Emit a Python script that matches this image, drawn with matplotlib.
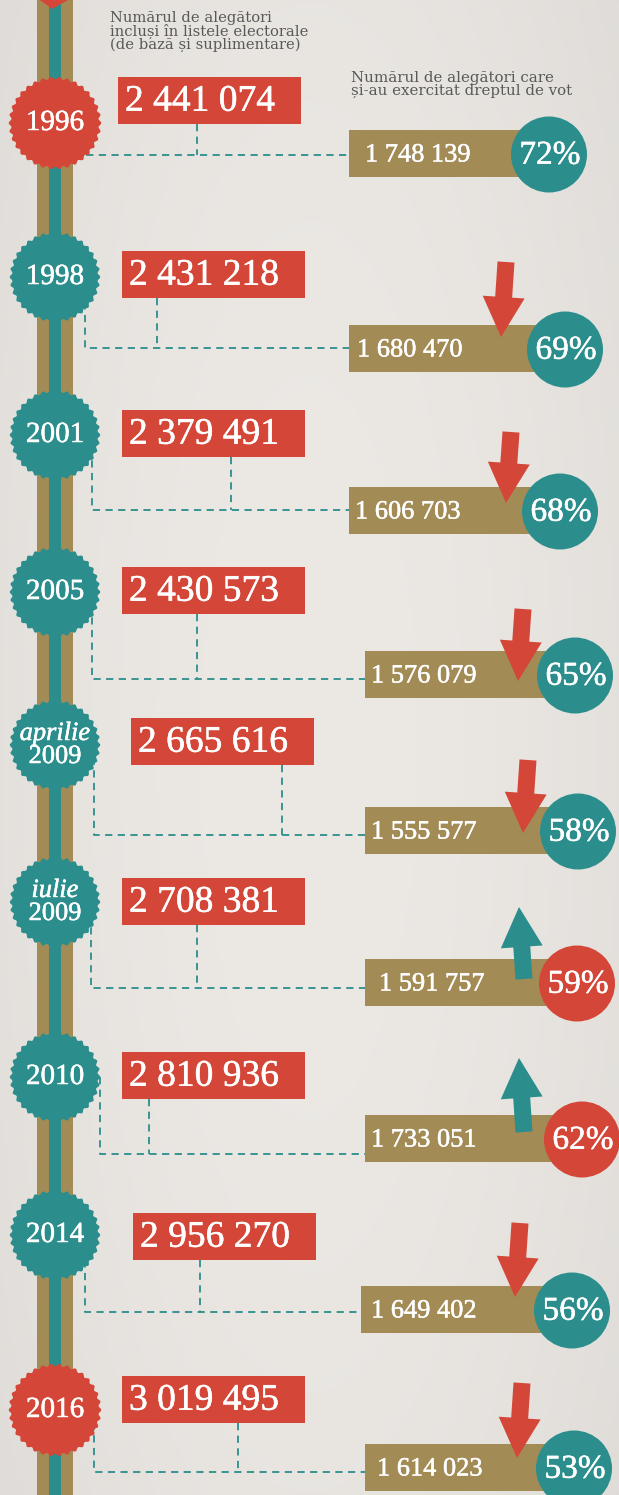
import numpy as np
import matplotlib
matplotlib.use("Agg")
import matplotlib.pyplot as plt
import matplotlib.patheffects as pe
from matplotlib.patches import Rectangle, Polygon, Circle

# data
labels = ["1996", "1998", "2001", "2005", "aprilie\n2009", "iulie\n2009", "2010", "2014", "2016"]
registered = [2441074, 2431218, 2379491, 2430573, 2665616, 2708381, 2810936, 2956270, 3019495]
voted = [1748139, 1680470, 1606703, 1576079, 1555577, 1591757, 1733051, 1649402, 1614023]
turnout = [72, 69, 68, 65, 58, 59, 62, 56, 53]

header_left = "Numărul de alegători\nincluși în listele electorale\n(de bază și suplimentare)"
header_right = "Numărul de alegători care\nși-au exercitat dreptul de vot"

# layout (pixels, y down)
badge_y = [123, 277, 435, 592, 745, 902, 1077, 1235, 1410]
badge_red = [True, False, False, False, False, False, False, False, True]
red_x0 = [118, 122, 122, 122, 131, 122, 122, 133, 122]
red_y0 = [77, 251, 410, 567, 718, 878, 1052, 1213, 1376]
olive_x0 = [349, 349, 349, 365, 365, 365, 365, 361, 365]
olive_y0 = [130, 325, 487, 651, 807, 959, 1115, 1286, 1444]
olive_pad = [16, 8, 6, 6, 6, 14, 6, 10, 12]
circ_x = [549, 565, 560, 575, 578, 577, 582, 572, 574]
dash_vx = [55, 85, 92, 92, 94, 91, 100, 85, 94]
dash_y = [155, 348, 510, 679, 835, 988, 1154, 1312, 1472]
conn_x = [197, 157, 231, 197, 282, 197, 149, 200, 238]
arrow_x = [0, 503, 508, 520, 525, 521, 521, 517, 519]
arrow_from = [0, 262, 432, 609, 760, 979, 1132, 1223, 1383]
arrow_to = [0, 337, 503, 681, 833, 907, 1058, 1297, 1458]

RED = "#d44637"
TEAL = "#2b8e8c"
OLIVE = "#a38b56"
BG = "#ece9e5"

W, H = 619, 1495
BOX_W, BOX_H = 183, 47
CIRC_R = 38

plt.rcParams['font.family'] = ['Liberation Serif', 'DejaVu Serif']

fig = plt.figure(figsize=(W / 100, H / 100), dpi=100)
ax = fig.add_axes([0, 0, 1, 1])
ax.set_xlim(0, W)
ax.set_ylim(H, 0)
ax.axis('off')

# paper-ish background: soft vignette
gx, gy = np.meshgrid(np.linspace(-1, 1, 200), np.linspace(-1, 1, 400))
shade = 1 - 0.035 * (gx ** 2 + 0.5 * gy ** 2)
base = np.array(matplotlib.colors.to_rgb(BG))
img = np.clip(shade[..., None] * base[None, None, :], 0, 1)
ax.imshow(img, extent=[0, W, H, 0], aspect='auto', zorder=0)

bold = [pe.withStroke(linewidth=0.35, foreground='white')]


def badge(cx, cy, r, color, n=34):
    t = np.linspace(0, 2 * np.pi, 600)
    rr = r * (1 + 0.028 * np.cos(n * t))
    return Polygon(np.c_[cx + rr * np.cos(t), cy + rr * np.sin(t)], closed=True,
                   fc=color, ec='none', zorder=4)


def arrow_poly(x0, y0, x1, y1, hl=40, hw=42, sw=17):
    d = np.array([x1 - x0, y1 - y0], float)
    L = np.hypot(*d)
    u = d / L
    p = np.array([-u[1], u[0]])
    a = np.array([x0, y0], float)
    neck = a + u * (L - hl)
    tip = a + u * L
    return [a + p * sw / 2, neck + p * sw / 2, neck + p * hw / 2, tip,
            neck - p * hw / 2, neck - p * sw / 2, a - p * sw / 2]


# timeline
tl_x = 55
ax.add_patch(Rectangle((tl_x - 18, 0), 36, H, fc=OLIVE, ec='none', zorder=1))
ax.add_patch(Rectangle((tl_x - 6, 0), 12, H, fc=TEAL, ec='none', zorder=1.1))
ax.add_patch(Polygon([(40, 0), (68, 0), (52, 9)], closed=True, fc=RED, ec='none', zorder=4))

# headers
ax.text(110, 11, header_left, ha='left', va='top', fontsize=10.6, color='#595959',
        family=['DejaVu Serif'], linespacing=0.86)
ax.text(351, 71, header_right, ha='left', va='top', fontsize=10.8, color='#595959',
        family=['DejaVu Serif'], linespacing=0.86)

for i, lab in enumerate(labels):
    by = badge_y[i]
    ax.add_patch(badge(tl_x, by, 45 if badge_red[i] else 44, RED if badge_red[i] else TEAL))
    if "\n" in lab:
        month, yr = lab.split("\n")
        ax.text(tl_x, by - 11, month, ha='center', va='center', color='white',
                fontsize=19, style='italic', zorder=5, path_effects=bold)
        ax.text(tl_x, by + 12, yr, ha='center', va='center', color='white',
                fontsize=19, zorder=5, path_effects=bold)
    else:
        ax.text(tl_x, by, lab, ha='center', va='center', color='white', fontsize=21,
                zorder=5, path_effects=bold)

    # dashed connectors
    dy = dash_y[i]
    ax.plot([dash_vx[i], dash_vx[i], olive_x0[i]], [by, dy, dy], color=TEAL, lw=1.3,
            ls=(0, (4, 3)), zorder=2)
    ax.plot([conn_x[i], conn_x[i]], [red_y0[i] + BOX_H, dy], color=TEAL, lw=1.3,
            ls=(0, (4, 3)), zorder=2)

    # registered voters box
    ax.add_patch(Rectangle((red_x0[i], red_y0[i]), BOX_W, BOX_H, fc=RED, ec='none', zorder=3))
    ax.text(red_x0[i] + 7, red_y0[i] + BOX_H / 2 + 1, f"{registered[i]:,}".replace(",", " "),
            ha='left', va='center', color='white', fontsize=27, zorder=5, path_effects=bold)

    # voters box
    cx = circ_x[i]
    cy = olive_y0[i] + BOX_H / 2 + 1
    ax.add_patch(Rectangle((olive_x0[i], olive_y0[i]), cx - olive_x0[i], BOX_H,
                           fc=OLIVE, ec='none', zorder=3))
    ax.text(olive_x0[i] + olive_pad[i], cy + 1, f"{voted[i]:,}".replace(",", " "),
            ha='left', va='center', color='white', fontsize=19, zorder=5, path_effects=bold)

    up = i > 0 and turnout[i] > turnout[i - 1]
    if i > 0:
        acol = TEAL if up else RED
        ax.add_patch(Polygon(arrow_poly(arrow_x[i] + 3, arrow_from[i], arrow_x[i] - 2, arrow_to[i]),
                             closed=True, fc=acol, ec='none', zorder=3.5))
    ax.add_patch(Circle((cx, cy), CIRC_R, fc=RED if up else TEAL, ec='none', zorder=4))
    ax.text(cx + 1, cy + 1, f"{turnout[i]}%", ha='center', va='center', color='white',
            fontsize=24, zorder=5, path_effects=bold)

fig.savefig("out.png", dpi=100)
